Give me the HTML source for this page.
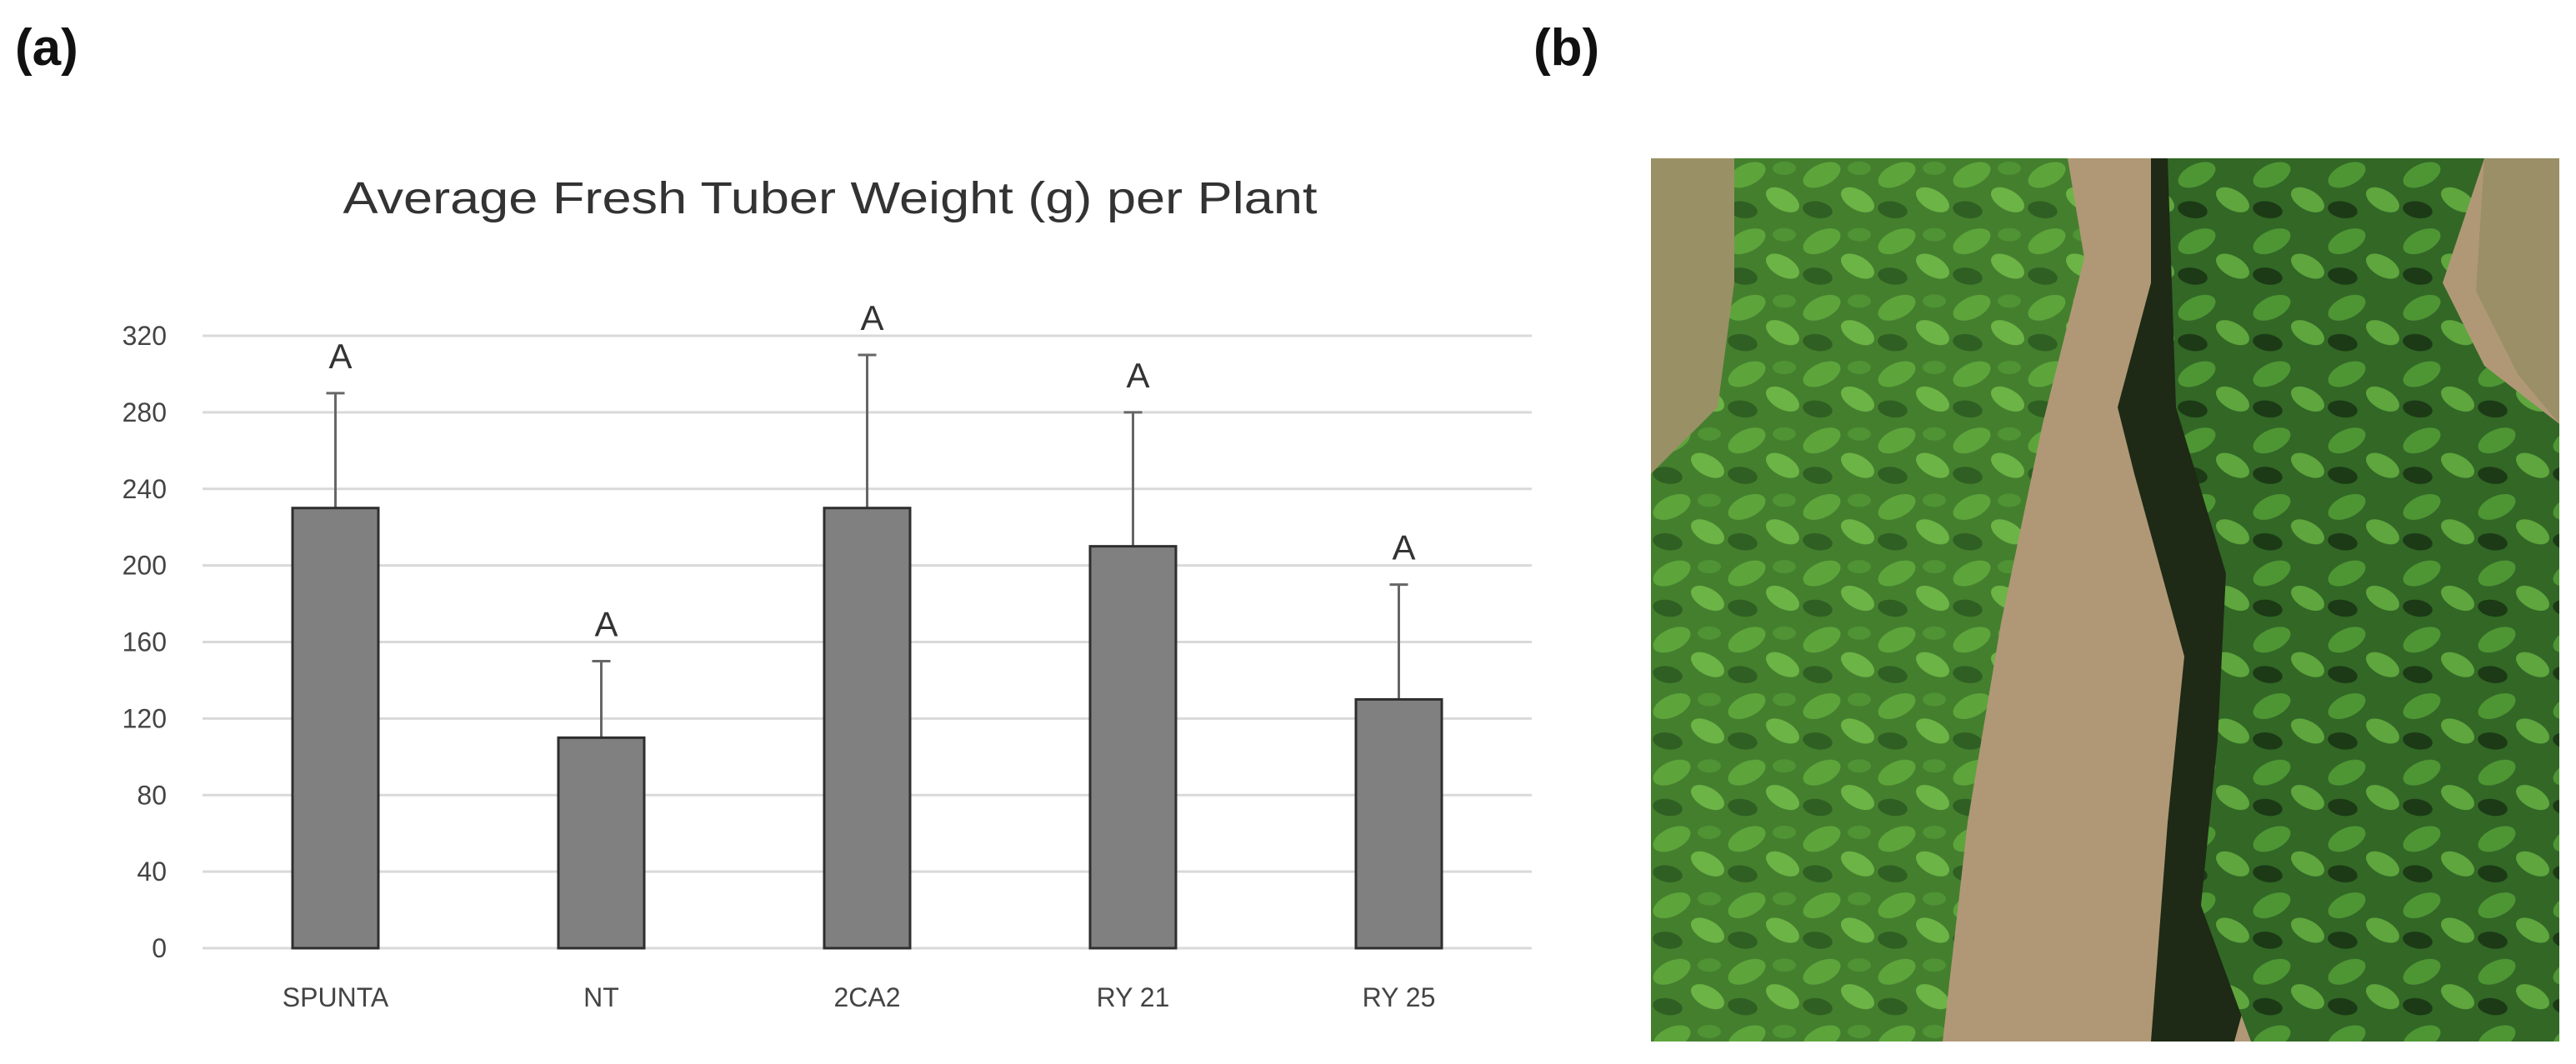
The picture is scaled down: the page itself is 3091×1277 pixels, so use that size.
<!DOCTYPE html>
<html><head><meta charset="utf-8"><style>
html,body{margin:0;padding:0;background:#fff;}
body{width:3091px;height:1277px;position:relative;overflow:hidden;font-family:"Liberation Sans",sans-serif;}
.panel{position:absolute;font-weight:bold;font-size:62px;color:#111;}
</style></head><body>
<div class="panel" style="left:18px;top:22px;">(a)</div>
<div class="panel" style="left:1840px;top:22px;">(b)</div>
<svg id="chart" width="1960" height="1277" style="position:absolute;left:0;top:0;"></svg>
<svg width="1090" height="1060" style="position:absolute;left:1981px;top:190px;" viewBox="0 0 1090 1064" preserveAspectRatio="none">
<defs>
<pattern id="leafL" width="90" height="80" patternUnits="userSpaceOnUse">
<rect width="90" height="80" fill="#447f2e"/>
<ellipse cx="25" cy="20" rx="24" ry="13" fill="#5da53b" transform="rotate(-25 25 20)"/>
<ellipse cx="68" cy="50" rx="22" ry="12" fill="#6cb445" transform="rotate(30 68 50)"/>
<ellipse cx="20" cy="62" rx="18" ry="10" fill="#2f5f22" transform="rotate(10 20 62)"/>
<ellipse cx="70" cy="12" rx="14" ry="8" fill="#4f9334"/>
</pattern>
<pattern id="leafR" width="90" height="80" patternUnits="userSpaceOnUse">
<rect width="90" height="80" fill="#326726"/>
<ellipse cx="25" cy="20" rx="24" ry="13" fill="#4e9634" transform="rotate(-25 25 20)"/>
<ellipse cx="68" cy="50" rx="22" ry="12" fill="#5ea63d" transform="rotate(30 68 50)"/>
<ellipse cx="20" cy="62" rx="18" ry="10" fill="#1c3a16" transform="rotate(10 20 62)"/>
</pattern>
</defs>
<rect width="1090" height="1064" fill="#b09876"/>
<rect width="260" height="380" fill="#8c8a5a" opacity="0.6"/>
<polygon points="100,0 500,0 520,120 470,320 420,560 380,800 350,1064 0,1064 0,380 80,300 100,150" fill="url(#leafL)"/>
<polygon points="600,0 960,0 900,300 800,700 700,1064 600,1064 620,800 640,600 580,380 560,300 600,150" fill="#1e2a15"/>
<polygon points="620,0 1000,0 950,150 1000,250 1090,320 1090,1064 720,1064 660,900 680,700 690,500 630,300" fill="url(#leafR)"/>
<polygon points="1000,0 1090,0 1090,320 1040,260 990,160" fill="#9a8f66"/>
</svg>
<script>
const categories = ["SPUNTA","NT","2CA2","RY 21","RY 25"];
const values = [230,110,230,210,130];
const errors = [60,40,80,70,60];
const letters = ["A","A","A","A","A"];
const ticks = [0,40,80,120,160,200,240,280,320];

const NS="http://www.w3.org/2000/svg";
const svg=document.getElementById('chart');
const X0=243,X1=1838,Y0=1138,Y320=403;
const yS=v=>Y0-(v/320)*(Y0-Y320);
const band=(X1-X0)/categories.length;
const xC=i=>X0+band*(i+0.5);
function mk(t,a){const e=document.createElementNS(NS,t);for(const k in a)e.setAttribute(k,a[k]);svg.appendChild(e);return e;}

const title=mk('text',{x:996,y:256,'text-anchor':'middle','font-size':54,fill:'#333','font-family':'Liberation Sans, sans-serif',textLength:1169,lengthAdjust:'spacingAndGlyphs'});
title.textContent="Average Fresh Tuber Weight (g) per Plant";



ticks.forEach(t=>{
  const g=mk('line',{x1:X0,x2:X1,y1:yS(t),y2:yS(t),stroke:'#d9d9d9','stroke-width':3});
  
  
  const l=mk('text',{x:200,y:yS(t)+11,'text-anchor':'end','font-size':32,fill:'#444'});
  l.textContent=t;
  
  
});

const bw=103;
categories.forEach((c,i)=>{
  const x=xC(i), top=yS(values[i]), et=yS(values[i]+errors[i]);
  const eb=mk('line',{x1:x,x2:x,y1:top,y2:et,stroke:'#666','stroke-width':3});
  
  
  const cap=mk('line',{x1:x-11,x2:x+11,y1:et,y2:et,stroke:'#666','stroke-width':3});
  
  
  const r=mk('rect',{x:x-bw/2,y:top,width:bw,height:Y0-top,fill:'#808080',stroke:'#2e2e2e','stroke-width':3});
  
  
  const a=mk('text',{x:x+6,y:et-30,'text-anchor':'middle','font-size':42,fill:'#333'});
  a.textContent=letters[i];
  
  
  const xl=mk('text',{x:x,y:1208,'text-anchor':'middle','font-size':32,fill:'#444'});
  xl.textContent=c;
  
  
});
</script>
</body></html>
